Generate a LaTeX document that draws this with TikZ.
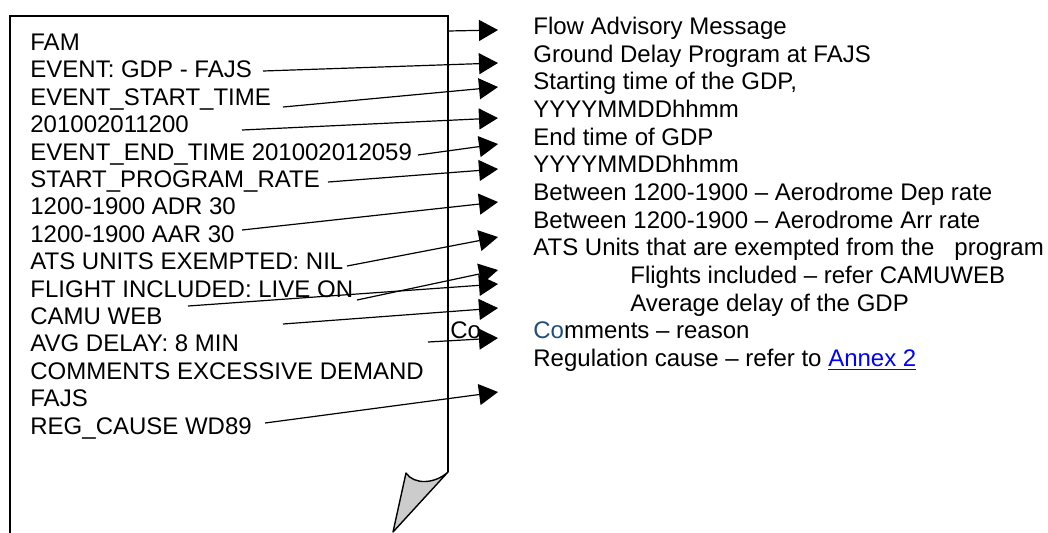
\documentclass[tikz,border=0pt]{standalone}
\usepackage{fontspec}
\setmainfont{Liberation Sans}
\usetikzlibrary{arrows.meta}
\definecolor{cocol}{RGB}{31,78,121}
\definecolor{linkcol}{RGB}{0,0,255}
\definecolor{foldcol}{RGB}{204,204,204}

\begin{document}
\begin{tikzpicture}[x=0.5pt,y=-0.5pt,
    msg/.style={anchor=base west,inner sep=0pt,font=\fontsize{12}{14}\selectfont},
    arr/.style={-{Triangle[length=9.5pt,width=10.5pt]},line width=0.6pt,black}]
        \useasboundingbox (0,0) rectangle (1048,532);

        %page
        \draw[line width=0.7pt] (10,540) -- (10,16) -- (448,16) -- (448,472);
        \draw[line width=0.7pt,fill=foldcol,line join=round] (448,472) .. controls (435,484) and (414,485) .. (406,473) -- (393,532) -- cycle;

        %message
        \node[msg] (fam)  at (30,50)  {FAM};
        \node[msg] (evt)  at (30,77)  {EVENT: GDP - FAJS};
        \node[msg] (est)  at (30,105) {EVENT\_START\_TIME};
        \node[msg] (esv)  at (30,132) {201002011200};
        \node[msg] (eet)  at (30,160) {EVENT\_END\_TIME 201002012059};
        \node[msg] (spr)  at (30,187) {START\_PROGRAM\_RATE};
        \node[msg] (adr)  at (30,214) {1200-1900 ADR 30};
        \node[msg] (aar)  at (30,242) {1200-1900 AAR 30};
        \node[msg] (ats)  at (30,269) {ATS UNITS EXEMPTED: NIL};
        \node[msg] (fli)  at (30,297) {FLIGHT INCLUDED: LIVE ON};
        \node[msg] (cam)  at (30,324) {CAMU WEB};
        \node[msg] (avg)  at (30,351) {AVG DELAY: 8 MIN};
        \node[msg] (com)  at (30,379) {COMMENTS EXCESSIVE DEMAND};
        \node[msg] (fajs) at (30,406) {FAJS};
        \node[msg] (reg)  at (30,434) {REG\_CAUSE WD89};

        %meaning
        \node[msg] (dfam) at (533,34)  {Flow Advisory Message};
        \node[msg] (devt) at (533,62)  {Ground Delay Program at FAJS};
        \node[msg] (dest) at (533,89)  {Starting time of the GDP,};
        \node[msg] (desv) at (533,117) {YYYYMMDDhhmm};
        \node[msg] (deet) at (533,145) {End time of GDP};
        \node[msg] (deev) at (533,172) {YYYYMMDDhhmm};
        \node[msg] (dadr) at (533,200) {Between 1200-1900 -- Aerodrome Dep rate};
        \node[msg] (daar) at (533,228) {Between 1200-1900 -- Aerodrome Arr rate};
        \node[msg] (dats) at (533,255) {ATS Units that are exempted from the \ \ program};
        \node[msg] (dfli) at (630,283) {Flights included -- refer CAMUWEB};
        \node[msg] (davg) at (630,311) {Average delay of the GDP};
        \node[msg] (dcom) at (533,338) {{\color{cocol}Co}mments -- reason};
        \node[msg] (dreg) at (533,366) {Regulation cause -- refer to {\color{linkcol}\underline{Annex 2}}};
        \node[msg] (co)   at (450,338) {Co};

        %arrow ends
        \coordinate (s1) at (448,31);  \coordinate (t1) at (498,30);
        \coordinate (s2) at (263,71);  \coordinate (t2) at (498,63);
        \coordinate (s3) at (283,107); \coordinate (t3) at (498,87);
        \coordinate (s4) at (242,130); \coordinate (t4) at (498,118);
        \coordinate (s5) at (418,155); \coordinate (t5) at (498,144);
        \coordinate (s6) at (328,182); \coordinate (t6) at (498,169);
        \coordinate (s7) at (242,230); \coordinate (t7) at (498,202);
        \coordinate (s8) at (347,266); \coordinate (t8) at (498,237);
        \coordinate (s9) at (357,300); \coordinate (t9) at (498,270);
        \coordinate (s10) at (188,306); \coordinate (t10) at (498,284);
        \coordinate (s11) at (283,324); \coordinate (t11) at (498,308);
        \coordinate (s12) at (428,342); \coordinate (t12) at (498,338);
        \coordinate (s13) at (265,423); \coordinate (t13) at (498,392);

        \foreach \i in {1,...,13}
            \draw[arr] (s\i) -- (t\i);

    \end{tikzpicture}
\end{document}
